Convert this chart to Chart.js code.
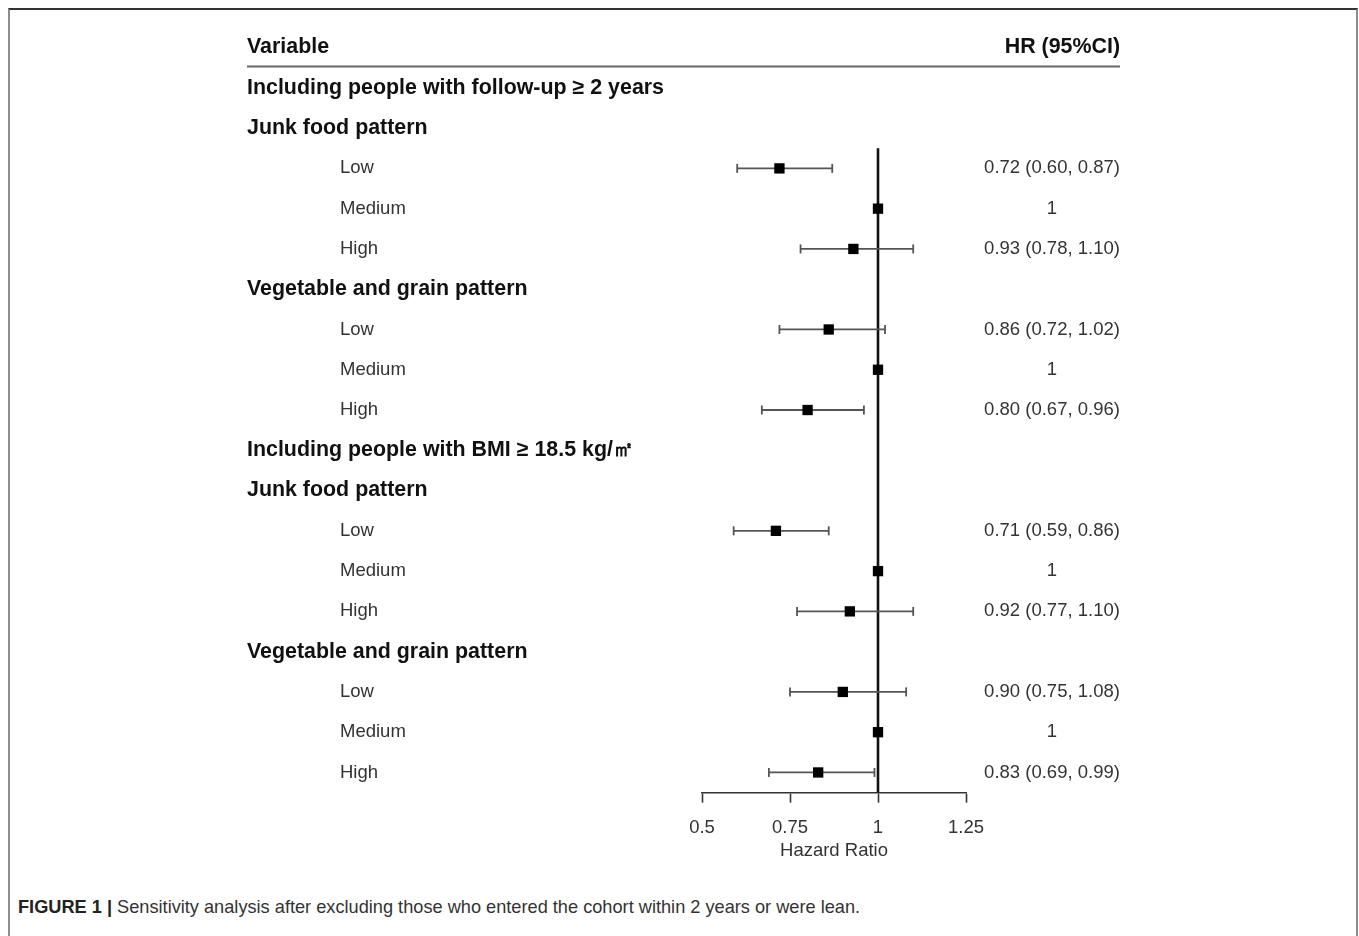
<!DOCTYPE html>
<html>
<head>
<meta charset="utf-8">
<script src="https://cdn.jsdelivr.net/npm/chart.js@4.4.1/dist/chart.umd.min.js"></script>
<style>
    html, body { margin: 0; padding: 0; background: #fff; overflow: hidden; }
    body { width: 1359px; height: 936px; position: relative; font-family: 'Liberation Sans', Arial, sans-serif; }
    #frame {
        position: absolute; left: 8px; top: 8px; width: 1346px; height: 1000px;
        border-top: 2px solid #333; border-left: 2px solid #8c8c8c; border-right: 2px solid #8c8c8c;
    }
    #wrap { position: absolute; left: 0; top: 0; width: 1359px; height: 883px; }
    #caption {
        position: absolute; left: 18px; top: 897px; font-size: 18.2px; color: #333; white-space: nowrap;
    }
    #caption b { color: #222; }
</style>
</head>
<body>
<div id="frame"></div>
<div id="wrap"><canvas id="forest"></canvas></div>
<div id="caption"><b>FIGURE 1 |</b> Sensitivity analysis after excluding those who entered the cohort within 2 years or were lean.</div>

<script>
// Rows of the table (row 0 is the header)
const rowLabels = [
    'Including people with follow-up ≥ 2 years',
    'Junk food pattern', 'Low', 'Medium', 'High',
    'Vegetable and grain pattern', 'Low', 'Medium', 'High',
    'Including people with BMI ≥ 18.5 kg/㎡',
    'Junk food pattern', 'Low', 'Medium', 'High',
    'Vegetable and grain pattern', 'Low', 'Medium', 'High'
];
// 0 = bold heading, 1 = indented level
const rowLevel = [0, 0, 1, 1, 1, 0, 1, 1, 1, 0, 0, 1, 1, 1, 0, 1, 1, 1];

const hr    = [null, null, 0.72, 1, 0.93, null, 0.86, 1, 0.80, null, null, 0.71, 1, 0.92, null, 0.90, 1, 0.83];
const lower = [null, null, 0.60, null, 0.78, null, 0.72, null, 0.67, null, null, 0.59, null, 0.77, null, 0.75, null, 0.69];
const upper = [null, null, 0.87, null, 1.10, null, 1.02, null, 0.96, null, null, 0.86, null, 1.10, null, 1.08, null, 0.99];
const hrText = [
    '', '', '0.72 (0.60, 0.87)', '1', '0.93 (0.78, 1.10)',
    '', '0.86 (0.72, 1.02)', '1', '0.80 (0.67, 0.96)',
    '', '', '0.71 (0.59, 0.86)', '1', '0.92 (0.77, 1.10)',
    '', '0.90 (0.75, 1.08)', '1', '0.83 (0.69, 0.99)'
];

const tickValues = [0.5, 0.75, 1, 1.25];
const tickLabels = ['0.5', '0.75', '1', '1.25'];

// build datasets from the arrays
const points = [];
const ciLines = [];
hr.forEach((v, i) => {
    if (v === null) return;
    points.push({ x: v, y: i + 1 });
    if (lower[i] !== null) {
        ciLines.push({ x: lower[i], y: i + 1 });
        ciLines.push({ x: upper[i], y: i + 1 });
        ciLines.push({ x: null, y: null });
    }
});

const FONT = "'Liberation Sans', Arial, sans-serif";

const tablePlugin = {
    id: 'tablePlugin',
    afterDraw(chart) {
        const ctx = chart.ctx;
        const yScale = chart.scales.y;
        ctx.save();
        ctx.textBaseline = 'middle';

        // header
        const yHead = yScale.getPixelForValue(0);
        ctx.font = 'bold 21.4px ' + FONT;
        ctx.fillStyle = '#111';
        ctx.textAlign = 'left';
        ctx.fillText('Variable', 247, yHead);
        ctx.textAlign = 'right';
        ctx.fillText('HR (95%CI)', 1120, yHead);

        const yLine = yScale.getPixelForValue(0.47);
        ctx.strokeStyle = '#666';
        ctx.lineWidth = 2;
        ctx.beginPath();
        ctx.moveTo(247, yLine);
        ctx.lineTo(1120, yLine);
        ctx.stroke();

        rowLabels.forEach((label, i) => {
            const y = yScale.getPixelForValue(i + 1);
            ctx.textAlign = 'left';
            if (rowLevel[i] === 0) {
                ctx.font = 'bold 21.4px ' + FONT;
                ctx.fillStyle = '#111';
                ctx.fillText(label, 247, y);
            } else {
                ctx.font = '18.5px ' + FONT;
                ctx.fillStyle = '#333';
                ctx.fillText(label, 340, y);
            }
            if (hrText[i]) {
                ctx.font = '18.5px ' + FONT;
                ctx.fillStyle = '#333';
                ctx.textAlign = 'center';
                ctx.fillText(hrText[i], 1052, y);
            }
        });
        ctx.restore();
    }
};

new Chart(document.getElementById('forest'), {
    type: 'scatter',
    data: {
        datasets: [
            {
                label: 'HR',
                data: points,
                pointStyle: 'rect',
                pointRadius: 7.3,
                pointHoverRadius: 7.3,
                backgroundColor: '#000',
                borderWidth: 0,
                order: 0,
                clip: false
            },
            {
                label: '95% CI',
                type: 'line',
                data: ciLines,
                borderColor: '#555',
                borderWidth: 1.8,
                spanGaps: false,
                pointStyle: 'line',
                rotation: 90,
                pointRadius: 4.5,
                pointHoverRadius: 4.5,
                pointBorderColor: '#555',
                pointBorderWidth: 1.8,
                order: 1,
                clip: false
            },
            {
                label: 'Reference',
                type: 'line',
                data: [{ x: 1, y: 2.5 }, { x: 1, y: 18.5 }],
                borderColor: '#111',
                borderWidth: 2.6,
                pointRadius: 0,
                order: 2,
                clip: false
            }
        ]
    },
    options: {
        responsive: true,
        maintainAspectRatio: false,
        animation: false,
        layout: { padding: { left: 702, right: 393, top: 0, bottom: 17 } },
        plugins: {
            legend: { display: false },
            tooltip: { enabled: false }
        },
        scales: {
            x: {
                type: 'linear',
                position: 'bottom',
                min: 0.5,
                max: 1.25,
                afterBuildTicks: scale => {
                    scale.ticks = tickValues.map(v => ({ value: v }));
                },
                ticks: {
                    padding: 14,
                    color: '#333',
                    font: { family: FONT, size: 18.5 },
                    callback: (value) => tickLabels[tickValues.indexOf(value)]
                },
                grid: {
                    drawOnChartArea: false,
                    drawTicks: true,
                    tickLength: 10,
                    tickWidth: 1.6,
                    tickColor: '#333'
                },
                border: { display: true, color: '#333', width: 1.6 },
                title: {
                    display: true,
                    text: 'Hazard Ratio',
                    color: '#333',
                    font: { family: FONT, size: 18.5 },
                    padding: { top: -13, bottom: 4 }
                }
            },
            y: {
                type: 'linear',
                display: false,
                reverse: true,
                min: -1.0,
                max: 18.5
            }
        }
    },
    plugins: [tablePlugin]
});
</script>
</body>
</html>
